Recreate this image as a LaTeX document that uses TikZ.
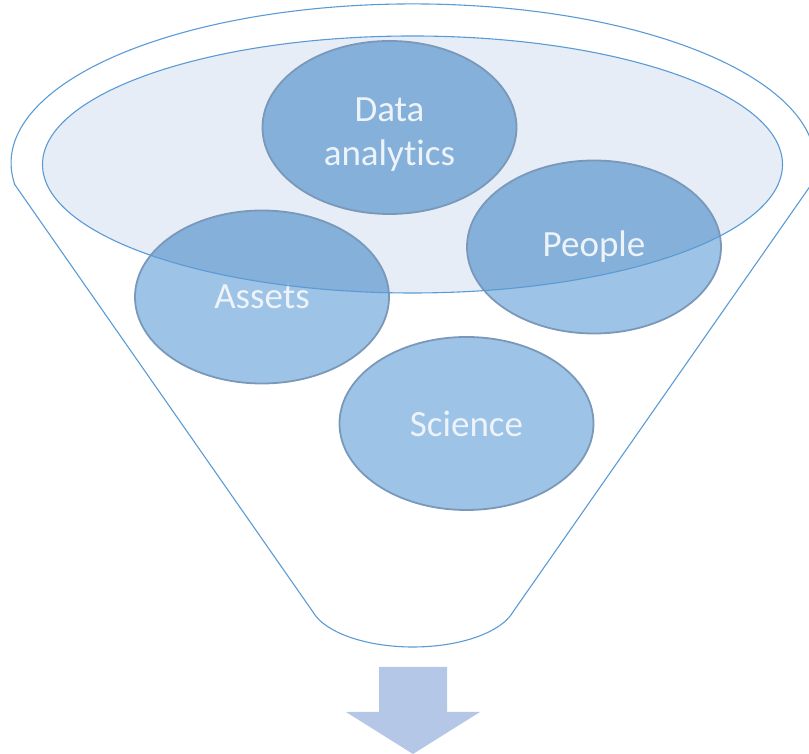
\documentclass[tikz,border=0pt]{standalone}
\usepackage{fontspec}
\setsansfont{Carlito}[Ligatures=NoCommon]
\usepackage{tikz}
\usetikzlibrary{shapes.geometric}

\definecolor{funnelblue}{RGB}{91,155,213}
\definecolor{rimfill}{RGB}{230,237,247}
\definecolor{topicfill}{RGB}{157,195,230}
\definecolor{topicdark}{RGB}{132,176,218}
\definecolor{topicline}{RGB}{122,152,186}
\definecolor{topictext}{RGB}{238,243,250}
\definecolor{arrowblue}{RGB}{180,199,231}

\begin{document}
\begin{tikzpicture}[x=1pt, y=1pt,
    topic/.style={ellipse, draw=topicline, line width=1.8pt, fill=topicfill,
        minimum width=254pt, minimum height=173pt, inner sep=0pt,
        path picture={\fill[topicdark] (rim) ellipse [x radius=370, y radius=128.5];},
        text=topictext, align=center, font=\sffamily\fontsize{37}{45}\selectfont}]
            \useasboundingbox (0,0) rectangle (809,754);
            \coordinate (rim) at (412.5,589.5);
            % funnel outline
            \draw[funnelblue, line width=1.1pt] (14.7,569.5) -- (313,142)
                arc[start angle=194.8, end angle=345.2, x radius=103.4, y radius=47]
                -- (811.3,569.5)
                arc[start angle=-7.8, end angle=187.8, x radius=402, y radius=159] -- cycle;
            \fill[rimfill] (rim) ellipse [x radius=370, y radius=128.5];
            % the four topics
            \node[topic] (data) at (389.5,626.5) {\rule{0pt}{37pt}Data\\[-1pt]analytics};
            \node[topic] (people) at (594,507) {People};
            \node[topic] (assets) at (262,457) {Assets};
            \node[topic] (science) at (466.5,330.5) {Science};
            % funnel rim
            \draw[funnelblue, line width=1.1pt] (rim) ellipse [x radius=370, y radius=128.5];
            % arrow
            \fill[arrowblue] (379,87) -- (447,87) -- (447,42) -- (480,42) -- (413,0) -- (346,42) -- (379,42) -- cycle;
        \end{tikzpicture}
\end{document}
